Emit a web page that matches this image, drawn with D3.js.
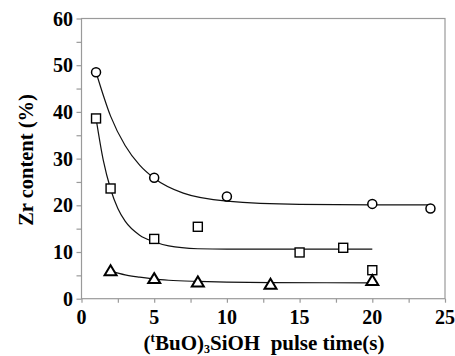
<!DOCTYPE html>
<html><head><meta charset="utf-8">
<script src="https://cdn.jsdelivr.net/npm/d3@7"></script>
<style>body{margin:0;background:#fff}svg{display:block}</style>
</head><body>
<svg id="c" width="455" height="356"></svg>
<script>
// Measured points
const circleX = [1, 5, 10, 20, 24];
const circleY = [48.5, 25.9, 21.9, 20.3, 19.3];
const squareX = [1, 2, 5, 8, 15, 18, 20];
const squareY = [38.6, 23.6, 12.8, 15.4, 9.9, 10.9, 6.1];
const triX = [2, 5, 8, 13, 20];
const triY = [6.0, 4.3, 3.6, 3.1, 3.9];
// Fitted curves
const circleFitX = [1, 2, 3, 4, 5, 7, 10, 15, 20, 24];
const circleFitY = [48.5, 39.1, 32.8, 28.6, 25.8, 22.6, 20.9, 20.2, 20.1, 20.1];
const squareFitX = [1, 1.5, 2, 2.5, 3, 4, 5, 6, 8, 10, 20];
const squareFitY = [38.6, 29.6, 23.5, 19.3, 16.6, 13.6, 12.2, 11.3, 10.7, 10.6, 10.6];
const triFitX = [2, 3, 4, 5, 6, 8, 10, 13, 20];
const triFitY = [5.9, 5.1, 4.6, 4.2, 3.95, 3.7, 3.55, 3.45, 3.4];
const xTicks = [0, 5, 10, 15, 20, 25];
const yTicks = [0, 10, 20, 30, 40, 50, 60];

const svg = d3.select("#c");
const L = 81.5, R = 445, T = 18.5, B = 298.7;
const x = d3.scaleLinear().domain([0, 25]).range([L, R]);
const y = d3.scaleLinear().domain([0, 60]).range([B, T]);
const font = "'Liberation Serif','Times New Roman',serif";
const axisCol = "#9a9a9a";

// frame
svg.append("rect").attr("x", L).attr("y", T).attr("width", R - L).attr("height", B - T)
  .attr("fill", "none").attr("stroke", axisCol).attr("stroke-width", 1.2);

// x axis
const xa = svg.append("g").attr("transform", `translate(0,${B})`)
  .call(d3.axisBottom(x).tickValues(d3.range(0, 25.01, 2.5)).tickSize(4).tickFormat(""));
xa.select(".domain").remove();
xa.selectAll("line").attr("stroke", axisCol).attr("stroke-width", 1.2);
svg.append("g").selectAll("text").data(xTicks).join("text")
  .attr("x", d => x(d)).attr("y", 324).attr("text-anchor", "middle")
  .attr("font-family", font).attr("font-weight", "bold").attr("font-size", 20).text(d => d);

// y axis
const ya = svg.append("g").attr("transform", `translate(${L},0)`)
  .call(d3.axisLeft(y).tickValues(d3.range(0, 60.01, 5)).tickSize(5).tickFormat(""));
ya.select(".domain").remove();
ya.selectAll("line").attr("stroke", axisCol).attr("stroke-width", 1.2);
svg.append("g").selectAll("text").data(yTicks).join("text")
  .attr("x", 73).attr("y", d => y(d) + 7).attr("text-anchor", "end")
  .attr("font-family", font).attr("font-weight", "bold").attr("font-size", 20).text(d => d);

// titles
svg.append("text").attr("transform", "translate(33,160) rotate(-90)").attr("text-anchor", "middle")
  .attr("font-family", font).attr("font-weight", "bold").attr("font-size", 20.5).text("Zr content (%)");
const xt = svg.append("text").attr("x", 264).attr("y", 350).attr("text-anchor", "middle")
  .attr("font-family", font).attr("font-weight", "bold").attr("font-size", 21);
xt.append("tspan").text("(");
xt.append("tspan").attr("font-size", 13).attr("dy", -8).text("t");
xt.append("tspan").attr("dy", 8).text("BuO)");
xt.append("tspan").attr("font-size", 12).attr("dy", 3).text("3");
xt.append("tspan").attr("dy", -3).text("SiOH\u00a0\u00a0pulse time(s)");

// curves
const line = d3.line().x(d => x(d[0])).y(d => y(d[1])).curve(d3.curveMonotoneX);
[[circleFitX, circleFitY], [squareFitX, squareFitY], [triFitX, triFitY]].forEach(([xs, ys]) => {
  svg.append("path").attr("d", line(xs.map((v, i) => [v, ys[i]])))
    .attr("fill", "none").attr("stroke", "#111").attr("stroke-width", 1.2);
});

// markers
svg.append("g").selectAll("circle").data(circleX.map((v, i) => [v, circleY[i]])).join("circle")
  .attr("cx", d => x(d[0])).attr("cy", d => y(d[1])).attr("r", 4.5)
  .attr("fill", "#fff").attr("stroke", "#000").attr("stroke-width", 1.5);
svg.append("g").selectAll("rect").data(squareX.map((v, i) => [v, squareY[i]])).join("rect")
  .attr("x", d => x(d[0]) - 4.5).attr("y", d => y(d[1]) - 4.5).attr("width", 9).attr("height", 9)
  .attr("fill", "#fff").attr("stroke", "#000").attr("stroke-width", 1.4);
svg.append("g").selectAll("path").data(triX.map((v, i) => [v, triY[i]])).join("path")
  .attr("transform", d => `translate(${x(d[0])},${y(d[1])})`)
  .attr("d", "M0,-5.5L6,4.5L-6,4.5Z")
  .attr("fill", "#fff").attr("stroke", "#000").attr("stroke-width", 2);
</script>
</body></html>
